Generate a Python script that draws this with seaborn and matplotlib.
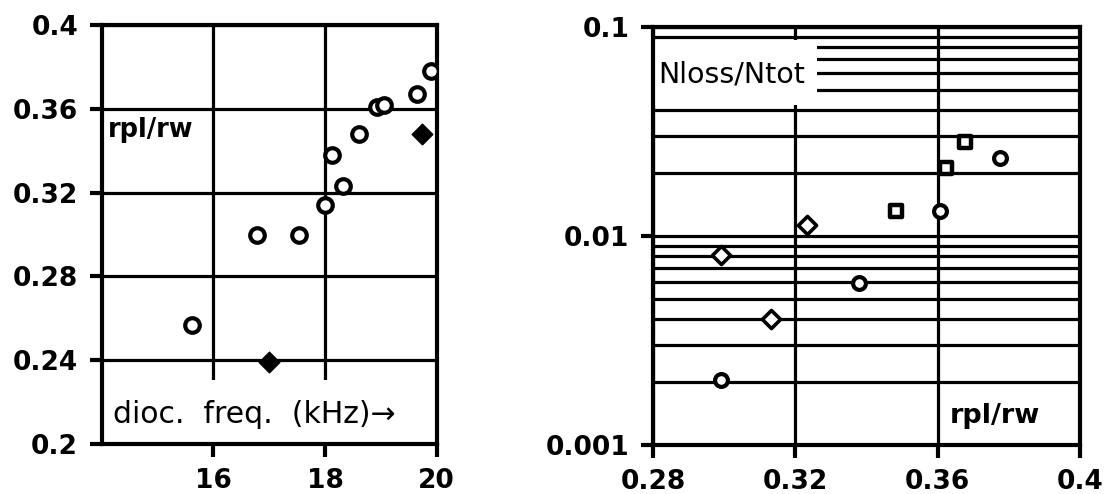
import matplotlib
matplotlib.use("Agg")
import matplotlib.pyplot as plt
import seaborn as sns
import pandas as pd
from matplotlib.patches import Rectangle
from matplotlib.ticker import LogLocator, NullFormatter

# ---------------- data ----------------
# left panel: r_pl/r_w versus dioc. frequency (kHz)
freq_circle = [15.61, 16.79, 17.53, 18.00, 18.33, 18.13, 18.61, 18.93, 19.06, 19.64, 19.90]
rpl_circle = [0.257, 0.300, 0.300, 0.314, 0.323, 0.338, 0.348, 0.361, 0.362, 0.367, 0.378]
freq_diamond = [17.00, 19.73]
rpl_diamond = [0.239, 0.348]

# right panel: N_loss/N_tot versus r_pl/r_w
r_circle = [0.299, 0.338, 0.3607, 0.3775]
loss_circle = [0.00205, 0.00594, 0.0132, 0.0235]
r_square = [0.3484, 0.3623, 0.3676]
loss_square = [0.0132, 0.0212, 0.0281]
r_diamond = [0.299, 0.3132, 0.3233]
loss_diamond = [0.00811, 0.00403, 0.0113]

left_xticks = [16, 18, 20]
left_xlabels = ["16", "18", "20"]
left_yticks = [0.2, 0.24, 0.28, 0.32, 0.36, 0.4]
left_ylabels = ["0.2", "0.24", "0.28", "0.32", "0.36", "0.4"]
right_xticks = [0.28, 0.32, 0.36, 0.4]
right_xlabels = ["0.28", "0.32", "0.36", "0.4"]
right_yticks = [0.001, 0.01, 0.1]
right_ylabels = ["0.001", "0.01", "0.1"]

# ---------------- style ----------------
sns.set_style("white")
plt.rcParams["font.family"] = ["DejaVu Sans"]
plt.rcParams.update({"text.color": "black", "axes.labelcolor": "black",
                     "xtick.color": "black", "ytick.color": "black"})

fig = plt.figure(figsize=(11.07, 4.94), dpi=100)
axL = fig.add_axes([0.0919, 0.1012, 0.3026, 0.848])
axR = fig.add_axes([0.5899, 0.0992, 0.3857, 0.846])

GRID_LW = 2.3
SPINE_LW = 3.0

for ax in (axL, axR):
    ax.set_axisbelow(True)
    for sp in ax.spines.values():
        sp.set_visible(True)
        sp.set_color("black")
        sp.set_linewidth(SPINE_LW)
    ax.tick_params(which="major", direction="out", length=9, width=3,
                   color="black", pad=8, labelsize=19, labelcolor="black",
                   left=True, bottom=True, top=False, right=False)
    ax.set_facecolor("white")

# ---------------- left panel ----------------
sns.scatterplot(x=freq_circle, y=rpl_circle, ax=axL, marker="o", s=110,
                facecolor="white", edgecolor="black", linewidth=3.0, zorder=3)
sns.scatterplot(x=freq_diamond, y=rpl_diamond, ax=axL, marker="D", s=110,
                color="black", edgecolor="black", linewidth=1, zorder=3)
axL.set_xlim(14, 20)
axL.set_ylim(0.2, 0.4)
axL.set_xticks(left_xticks)
axL.set_xticklabels(left_xlabels, fontweight="bold")
axL.set_yticks(left_yticks)
axL.set_yticklabels(left_ylabels, fontweight="bold")
axL.grid(True, which="major", color="black", linewidth=GRID_LW)
axL.set_xlabel("")
axL.set_ylabel("")

axL.add_patch(Rectangle((0, 0), 1, 0.153, transform=axL.transAxes,
                        facecolor="white", edgecolor="none", zorder=1))
axL.text(0.034, 0.050, "dioc.  freq.  (kHz)\u2192", transform=axL.transAxes,
         fontsize=21.5, va="baseline", ha="left", zorder=2)
axL.text(0.018, 0.733, "rpl/rw", transform=axL.transAxes,
         fontsize=18.5, fontweight="bold", va="baseline", ha="left", zorder=2)

# ---------------- right panel ----------------
axR.set_yscale("log")
sns.scatterplot(x=r_circle, y=loss_circle, ax=axR, marker="o", s=85,
                facecolor="white", edgecolor="black", linewidth=3.0, zorder=3)
sns.scatterplot(x=r_square, y=loss_square, ax=axR, marker="s", s=80,
                facecolor="white", edgecolor="black", linewidth=3.2, zorder=3)
sns.scatterplot(x=r_diamond, y=loss_diamond, ax=axR, marker="D", s=85,
                facecolor="white", edgecolor="black", linewidth=2.6, zorder=3)
axR.set_xlim(0.28, 0.4)
axR.set_ylim(0.001, 0.1)
axR.set_xticks(right_xticks)
axR.set_xticklabels(right_xlabels, fontweight="bold")
axR.set_yticks(right_yticks)
axR.set_yticklabels(right_ylabels, fontweight="bold")
axR.yaxis.set_minor_locator(LogLocator(base=10, subs=range(2, 10)))
axR.yaxis.set_minor_formatter(NullFormatter())
axR.tick_params(which="minor", length=0)
axR.grid(True, which="major", axis="x", color="black", linewidth=GRID_LW)
axR.grid(True, which="both", axis="y", color="black", linewidth=GRID_LW)
axR.set_xlabel("")
axR.set_ylabel("")

axR.add_patch(Rectangle((0, 0.813), 0.384, 0.156, transform=axR.transAxes,
                        facecolor="white", edgecolor="none", zorder=1))
axR.text(0.012, 0.868, "Nloss/Ntot", transform=axR.transAxes,
         fontsize=20.5, va="baseline", ha="left", zorder=2)
axR.text(0.696, 0.053, "rpl/rw", transform=axR.transAxes,
         fontsize=19.5, fontweight="bold", va="baseline", ha="left", zorder=2)

fig.savefig("out.png", dpi=100, facecolor="white")
